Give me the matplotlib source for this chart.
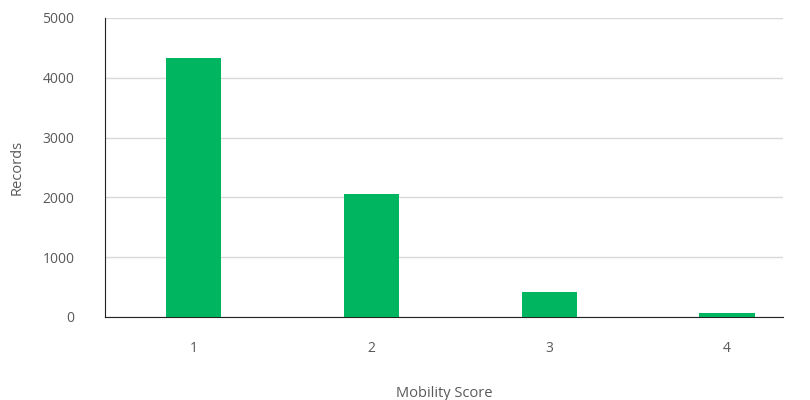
import matplotlib
matplotlib.use('Agg')
import matplotlib.pyplot as plt

scores = [1, 2, 3, 4]
records = [4330, 2060, 410, 62]
yticks = [0, 1000, 2000, 3000, 4000, 5000]

plt.rcParams['font.family'] = ['Open Sans', 'DejaVu Sans']

fig = plt.figure(figsize=(8.1, 4), dpi=100)
ax = fig.add_axes([105/810, 83/400, (783-105)/810, (317-18)/400])

ax.bar(scores, records, width=0.31, color='#00B55F', zorder=3)

ax.set_xlim(0.5, 4.315)
ax.set_ylim(0, 5000)
ax.set_xticks(scores)
ax.set_yticks(yticks)
ax.tick_params(axis='both', length=0, labelsize=10, colors='#595959')
ax.tick_params(axis='x', pad=17)
ax.tick_params(axis='y', pad=22)

ax.grid(axis='y', color='#D9D9D9', linewidth=1, zorder=0)
for s in ['top', 'right']:
    ax.spines[s].set_visible(False)
ax.spines['left'].set_color('#222222')
ax.spines['bottom'].set_color('#222222')

ax.set_xlabel('Mobility Score', fontsize=10.5, color='#595959', labelpad=22)
ax.set_ylabel('Records', fontsize=10.5, color='#595959', labelpad=13)

fig.savefig('out.png', dpi=100)
